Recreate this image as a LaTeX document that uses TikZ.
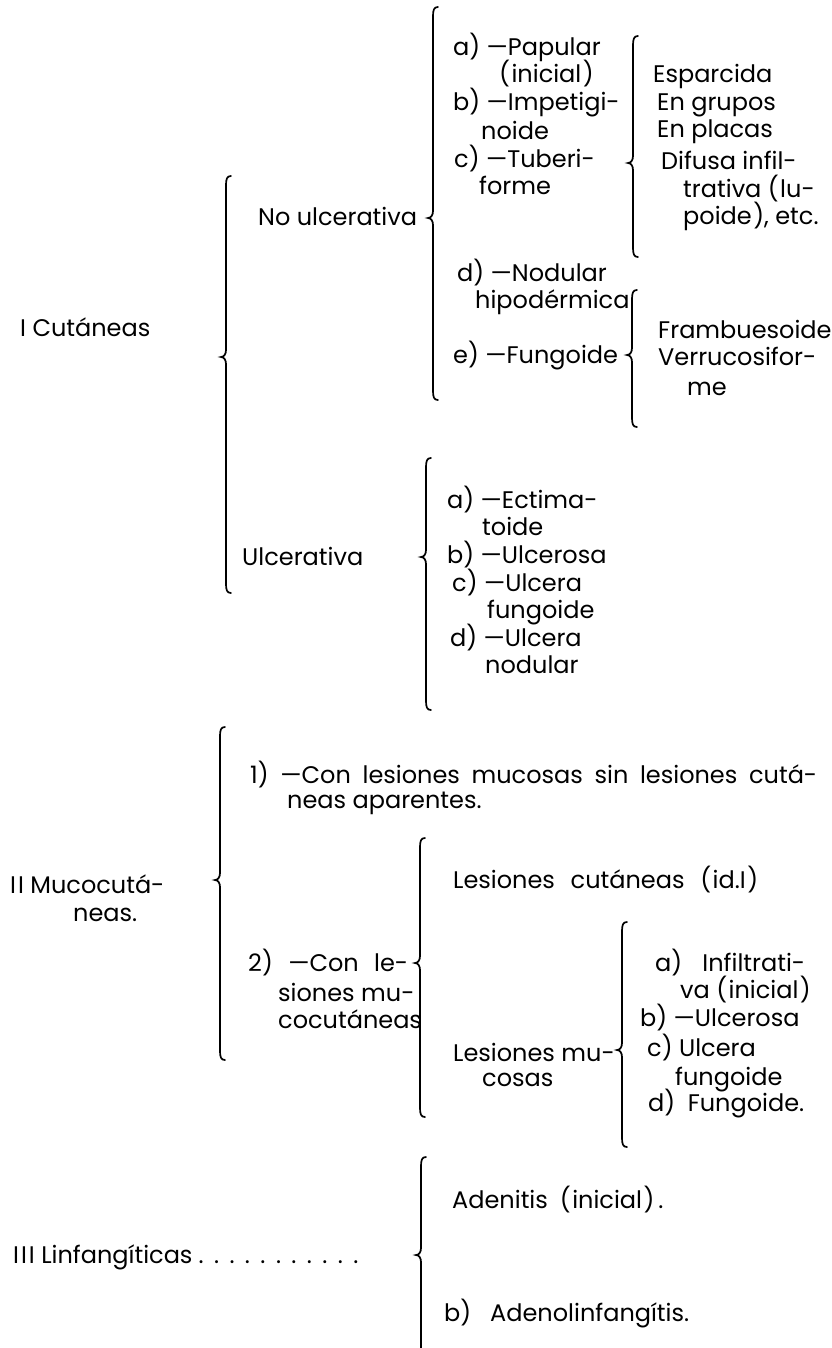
\documentclass[tikz,border=0pt]{standalone}
\usepackage{fontspec}
\newfontfamily\fut{Poppins}
\newcommand{\mybrace}[5]{%
  \coordinate (#1) at (#2-5,#4);
  \draw[curl] (#2+5,#3) .. controls (#2+1,#3) and (#2,#3+3) .. (#2,#3+9)
    -- (#2,#4-7) .. controls (#2,#4-3) and (#2-2,#4) .. (#2-5,#4)
    .. controls (#2-2,#4) and (#2,#4+3) .. (#2,#4+7)
    -- (#2,#5-9) .. controls (#2,#5-3) and (#2+1,#5) .. (#2+5,#5);}
\newcommand{\jl}[2]{\hbox to #1pt{\spaceskip=0.25em plus 1fil minus 0.1em\relax #2}}
\newcommand{\lp}{(\kern1.5pt}
\newcommand{\rp}{\kern1.5pt)}
\begin{document}
\begin{tikzpicture}[x=1pt,y=-1pt,
  txt/.style={anchor=base west,inner sep=0pt,font=\fut\fontsize{24}{28}\selectfont},
  curl/.style={line width=1.7pt,line cap=round}]
\useasboundingbox (0,0) rectangle (831,1348);
\fill[white] (0,0) rectangle (831,1348);
% ---------- I Cutaneas ----------
\node[txt] (cut) at (20,336) {I Cutáneas};
\mybrace{b4}{226}{176}{357}{593}
\node[txt] (noulc) at (258,226) {No ulcerativa};
\mybrace{b1}{433}{7}{218}{400}
\node[txt] (a1) at (453,56) {a) —Papular};
\node[txt] (a2) at (499,83) {\lp inicial\rp};
\node[txt] (b1) at (453,111) {b) —Impetigi-};
\node[txt] (b2) at (481,140) {noide};
\node[txt] (c1) at (454,168) {c) —Tuberi-};
\node[txt] (c2) at (479,195) {forme};
\node[txt] (d1) at (457,281) {d) —Nodular};
\node[txt] (d2) at (475,308) {hipodérmica};
\node[txt] (e1) at (453,363) {e) —Fungoide};
\mybrace{b2}{633}{36}{163}{257}
\node[txt] (s1) at (653,83) {Esparcida};
\node[txt] (s2) at (657,111) {En grupos};
\node[txt] (s3) at (657,138) {En placas};
\node[txt] (s4) at (661,170) {Difusa infil-};
\node[txt] (s5) at (683,198) {trativa \lp lu-};
\node[txt] (s6) at (683,225) {poide\rp, etc.};
\mybrace{b3}{632}{290}{355}{427}
\node[txt] (f1) at (658,338) {Frambuesoide};
\node[txt] (f2) at (658,365) {Verrucosifor-};
\node[txt] (f3) at (687,395) {me};
\node[txt] (ulc) at (242,565) {Ulcerativa};
\mybrace{b5}{426}{458}{557}{710}
\node[txt] (u1) at (447,508) {a) —Ectima-};
\node[txt] (u2) at (482,535) {toide};
\node[txt] (u3) at (447,563) {b) —Ulcerosa};
\node[txt] (u4) at (452,591) {c) —Ulcera};
\node[txt] (u5) at (487,618) {fungoide};
\node[txt] (u6) at (450,646) {d) —Ulcera};
\node[txt] (u7) at (485,673) {nodular};
% ---------- II Mucocutaneas ----------
\node[txt] (muc1) at (10,893) {I\kern2pt I Mucocutá-};
\node[txt] (muc2) at (73,921) {neas.};
\mybrace{b6}{220}{727}{880}{1060}
\node[txt] (o1) at (250,783) {\jl{567}{1) —Con lesiones mucosas sin lesiones cutá-}};
\node[txt] (o2) at (287,808) {neas aparentes.};
\mybrace{b7}{420}{838}{963}{1117}
\node[txt] (t1) at (248,971) {\jl{160}{2) —Con le-}};
\node[txt] (t2) at (278,1001) {siones mu-};
\node[txt] (t3) at (278,1028) {cocutáneas};
\node[txt] (lc) at (453,888) {\jl{305}{Lesiones cutáneas \lp id.I\rp}};
\node[txt] (lm1) at (453,1061) {Lesiones mu-};
\node[txt] (lm2) at (482,1086) {cosas};
\mybrace{b8}{622}{922}{1050}{1147}
\node[txt] (m1) at (655,971) {\jl{150}{a) Infiltrati-}};
\node[txt] (m2) at (680,998) {va \lp inicial\rp};
\node[txt] (m3) at (640,1026) {b) —Ulcerosa};
\node[txt] (m4) at (647,1056) {c) Ulcera};
\node[txt] (m5) at (675,1085) {fungoide};
\node[txt] (m6) at (648,1111) {\jl{156}{d) Fungoide.}};
% ---------- III Linfangiticas ----------
\node[txt] (lin) at (13,1263) {I\kern2pt I\kern2pt I Linfangíticas\kern6pt\hbox to 160pt{.\hfil.\hfil.\hfil.\hfil.\hfil.\hfil.\hfil.\hfil.\hfil.\hfil.}};
\mybrace{b9}{421}{1157}{1255}{1370}
\node[txt] (ad1) at (452,1208) {Adenitis\kern12pt\lp inicial\rp\kern4pt.};
\node[txt] (ad2) at (444,1321) {\jl{245}{b) Adenolinfangítis.}};
\end{tikzpicture}
\end{document}
